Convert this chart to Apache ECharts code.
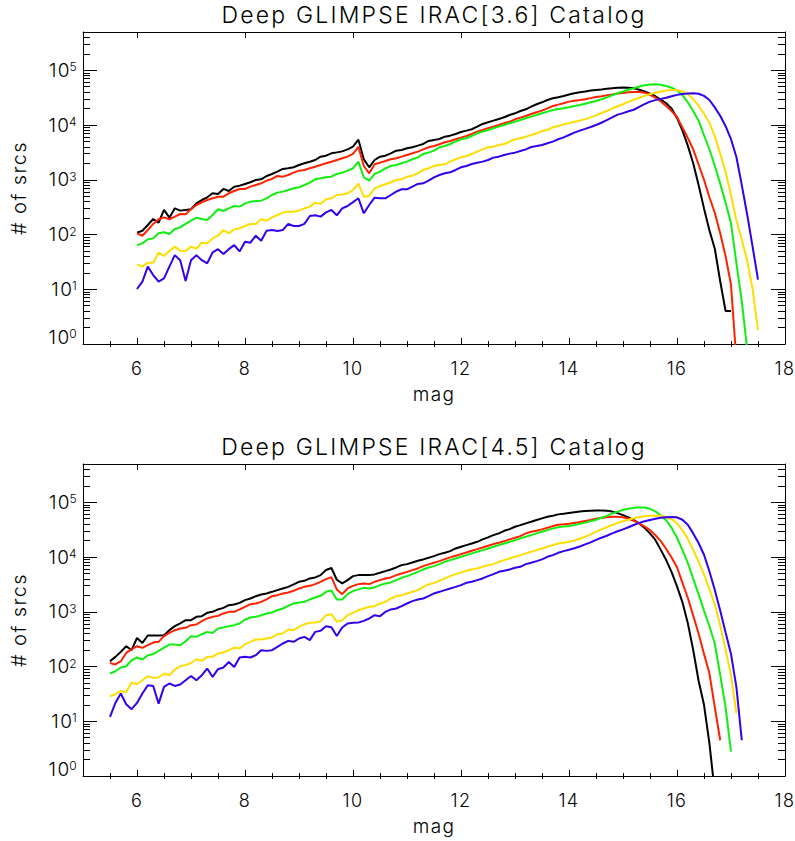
<!DOCTYPE html>
<html><head><meta charset="utf-8">
<script src="https://cdn.jsdelivr.net/npm/echarts@6/dist/echarts.min.js"></script>
<style>html,body{margin:0;padding:0;background:#fff}#c{width:795px;height:841px}#c text{letter-spacing:1.4px}</style>
</head><body><div id="c"></div>
<script>
// ---------- data ----------
const titles = ['Deep GLIMPSE IRAC[3.6] Catalog', 'Deep GLIMPSE IRAC[4.5] Catalog'];
const xName = 'mag';
const yName = '# of srcs';
const seriesColors = ['#000000', '#ff2200', '#11ee11', '#ffdd00', '#3300ee'];

const magTop = [6,6.1,6.2,6.3,6.4,6.5,6.6,6.7,6.8,6.9,7,7.1,7.2,7.3,7.4,7.5,7.6,7.7,7.8,7.9,
 8,8.1,8.2,8.3,8.4,8.5,8.6,8.7,8.8,8.9,9,9.1,9.2,9.3,9.4,9.5,9.6,9.7,9.8,9.9,
 10,10.1,10.2,10.3,10.4,10.5,10.6,10.7,10.8,10.9,11,11.1,11.2,11.3,11.4,11.5,11.6,11.7,11.8,11.9,
 12,12.1,12.2,12.3,12.4,12.5,12.6,12.7,12.8,12.9,13,13.1,13.2,13.3,13.4,13.5,13.6,13.7,13.8,13.9,
 14,14.1,14.2,14.3,14.4,14.5,14.6,14.7,14.8,14.9,15,15.1,15.2,15.3,15.4,15.5,15.6,15.7,15.8,15.9,
 16,16.1,16.2,16.3,16.4,16.5,16.6,16.7,16.8,16.9,17,17.1,17.2,17.3,17.4,17.5];

const top36Black = [108,117,149,192,165,281,203,301,273,281,289,371,427,478,566,550,680,624,748,780,
 838,899,991,1019,1172,1276,1406,1574,1619,1690,1862,1996,2140,2297,2643,2755,3042,3165,3300,3594,
 4024,5400,2366,1690,2297,2643,2755,3042,3404,3500,3757,3918,4198,4508,5108,5330,5559,6125,6395,6860,
 7463,7893,8360,9330,10450,11210,12020,12890,13840,15250,16360,18040,19360,21640,23910,26000,28650,30750,32070,33900,
 36000,37950,39600,41000,42500,43500,44500,46000,47000,48000,48200,48000,46900,44000,41000,37500,33500,29000,25000,20000,
 13500,8000,4200,2000,800,300,120,55,14,4,4];
const top36Red = [105,95,121,156,190,206,190,212,237,234,289,346,387,427,458,491,491,566,624,679,
 679,748,803,861,964,1033,1172,1140,1223,1349,1466,1510,1619,1734,1862,1996,2140,2297,2466,2643,
 2958,4000,1786,1313,1916,2052,2203,2366,2466,2643,2837,3042,3266,3594,3918,4140,4446,4831,5108,5486,
 5875,6310,6860,7560,8110,8710,9330,10000,10740,11510,12700,13620,14620,15920,17070,18320,20200,22280,23550,24950,
 26730,27870,28650,29500,31000,32500,33500,34800,36000,37500,38500,39500,40200,40200,39000,35500,31500,27000,22300,18000,
 14000,9000,5800,3600,1900,1000,480,250,105,40,12,0.5];
const top36Green = [64,69,82,85,105,110,102,126,135,156,179,203,192,184,227,289,269,301,332,323,
 371,398,410,415,458,527,582,607,650,698,728,803,885,1019,1062,1109,1140,1276,1349,1466,
 1620,2140,1109,964,1276,1406,1619,1786,1862,1996,2143,2366,2570,2958,3126,3404,3918,4140,4508,4966,
 5486,5720,6310,7050,7560,8110,8710,9330,10000,10740,11510,12360,13270,14220,15250,16360,17540,18830,19640,20200,
 21080,22280,23230,24500,26000,27500,29500,32000,35000,38000,41000,44000,47000,50500,53500,55000,55500,54500,51700,48000,
 43000,35000,26000,18000,12000,6500,3600,1800,850,380,160,30,6,0.8];
const top36Yellow = [28.5,25.9,30.6,30.6,46.7,40.5,50,60,50.7,50,60,55,71,69,85,95,121,105,124,130,
 143,156,156,190,179,206,227,251,261,261,273,301,323,382,361,440,458,527,540,566,
 650,850,491,506,698,769,826,899,991,1019,1140,1189,1313,1510,1619,1786,1862,1916,2143,2366,
 2570,2718,2958,3266,3594,3918,4024,4318,4508,4966,5486,5720,6125,6577,7050,7780,8110,9080,9600,10300,
 10740,11510,12030,12800,13800,15000,16600,18000,20000,22000,24000,26500,29000,31500,34000,36500,39000,41000,42500,43500,
 43500,41000,36500,29500,22500,16000,11000,6200,3000,1400,520,180,80,33,10,1.8];
const top36Blue = [10.1,13.8,25.9,18.2,13.8,15.8,25.9,42,34,14.2,34,42,34,29.8,47,54,44,54,64,49,
 74,71,95,77,117,121,116,121,156,143,143,156,218,224,212,254,281,224,300,332,
 390,460,244,346,471,458,458,527,607,670,670,748,838,861,964,1109,1223,1313,1368,1510,
 1690,1786,1941,2052,2143,2297,2536,2643,2837,3000,3126,3357,3594,3970,4140,4318,4637,4966,5486,5960,
 6577,7244,7893,8500,9200,10000,11000,12300,13800,15500,16500,17800,19000,21500,24000,26700,28500,30000,31600,33500,
 35500,37000,37800,38000,37200,34000,28600,21000,14800,9500,5500,2600,800,230,60,15];

const magBot = [5.5,5.6,5.7,5.8,5.9,6,6.1,6.2,6.3,6.4,6.5,6.6,6.7,6.8,6.9,7,7.1,7.2,7.3,7.4,7.5,7.6,7.7,7.8,7.9,
 8,8.1,8.2,8.3,8.4,8.5,8.6,8.7,8.8,8.9,9,9.1,9.2,9.3,9.4,9.5,9.6,9.7,9.8,9.9,
 10,10.1,10.2,10.3,10.4,10.5,10.6,10.7,10.8,10.9,11,11.1,11.2,11.3,11.4,11.5,11.6,11.7,11.8,11.9,
 12,12.1,12.2,12.3,12.4,12.5,12.6,12.7,12.8,12.9,13,13.1,13.2,13.3,13.4,13.5,13.6,13.7,13.8,13.9,
 14,14.1,14.2,14.3,14.4,14.5,14.6,14.7,14.8,14.9,15,15.1,15.2,15.3,15.4,15.5,15.6,15.7,15.8,15.9,
 16,16.1,16.2,16.3,16.4,16.5,16.6,16.7,16.8,16.9,17,17.1,17.2];

const bot45Black = [125,150,185,235,199,
 333,270,369,369,369,373,461,546,611,702,702,807,831,955,996,1102,1178,1320,1359,1455,
 1629,1749,1926,2070,2161,2312,2483,2666,2853,3155,3522,3675,4062,4236,4670,5800,6300,3850,3290,3785,
 4475,4670,4670,4670,4810,5145,5520,5930,6450,7110,7420,7960,8530,9040,9670,10380,11300,11940,12820,14350,
 15360,16500,17700,18970,20980,22820,25140,26980,30130,32360,35650,38280,41100,44040,47300,50750,54370,56650,60100,61500,
 63500,65500,67500,69000,70000,70500,70500,70000,67500,63500,58300,53000,47000,41000,34000,27000,20500,13500,8800,5300,
 2900,1500,620,200,55,20,4,0.5];
const bot45Red = [116,109,125,177,205,
 235,219,245,274,282,358,411,461,495,508,569,585,673,754,807,841,931,996,996,1102,
 1231,1377,1416,1518,1679,1926,2010,2161,2255,2412,2666,2853,2974,3197,3522,3945,4300,2560,2099,2666,
 2974,3197,3290,3197,3522,3785,4062,4236,4670,5012,5360,5764,6186,6820,7330,7840,8410,9160,9840,10520,
 11300,12130,12980,13930,14960,16020,17220,18200,19540,20980,22440,24100,26980,28900,30130,31980,34200,36730,38790,39500,
 40500,42000,43500,45500,47500,50000,52000,53500,54400,54500,53200,50000,46000,41000,36000,31000,25000,19500,14000,9800,
 6500,3400,1800,850,400,170,75,18,4.5];
const bot45Green = [74.5,82,95.8,101,130,
 146,134,161,168,193,222,252,252,245,290,358,348,389,429,411,495,516,546,569,611,
 723,787,807,866,931,971,1069,1148,1282,1416,1479,1518,1679,1825,1954,2312,2450,1679,1679,2099,
 2382,2560,2735,2666,2780,3064,3290,3435,3785,4170,4475,4865,5360,5930,6450,6820,7420,8170,8770,9420,
 10090,10840,11640,12450,13370,14350,15360,16500,17700,18970,20370,21870,23400,25140,26980,28900,31030,33340,35000,36000,
 37000,38500,40500,42500,45000,48000,52000,56500,62000,67500,72000,76000,79000,80500,80000,76000,68000,58000,47000,34000,
 22500,13500,7800,4000,2100,1050,550,260,70,18,2.8];
const bot45Yellow = [28.6,31.2,35.8,34.3,51,
 47.5,56.2,66.5,62,62.9,74.5,69.3,88.1,101,106,116,136,127,150,150,173,180,199,222,213,
 256,282,311,311,325,339,389,401,474,461,530,593,627,637,673,866,903,660,702,866,
 955,1069,1148,1231,1265,1416,1518,1749,1926,2010,2161,2312,2483,2853,3155,3375,3675,4062,4475,4865,
 5230,5600,5930,6186,6620,7110,7420,8170,8770,9420,10090,10840,11640,12450,13370,14350,15360,16500,17700,18300,
 19000,20000,21500,23500,26000,29000,32000,35000,38500,42000,45000,48000,51000,53500,55500,56700,57000,56500,54000,49000,
 41000,31000,21500,13500,8200,4800,2600,1350,560,200,70,14];
const bot45Blue = [12,21.6,32.1,20.5,16.6,
 21.6,32.1,45.5,44.2,21,42.4,48.9,44.2,46.9,56.2,67.3,56.2,69.3,91.9,64.5,89.3,95.8,121,98.4,146,
 150,146,161,199,193,199,228,263,294,282,325,348,303,429,448,546,520,360,516,611,
 627,637,682,754,866,831,996,1102,1148,1265,1416,1563,1679,1749,1926,2161,2312,2483,2666,2853,
 3064,3375,3522,3785,4062,4475,4865,5360,5600,5930,6350,6620,7420,7840,8410,9040,10090,10840,11940,12800,
 13600,14500,15600,17000,18500,20500,22500,24500,27000,29500,32000,35000,38500,42000,45000,47500,50000,52000,53000,54000,
 53000,48000,39000,27000,18000,11000,5500,2500,1050,420,170,42,4.5];

// axis ranges, ticks and labels
const xRange = [5, 18];
const xMajorTicks = [6, 8, 10, 12, 14, 16];
const xLabelVals = [6, 8, 10, 12, 14, 16, 18];
const xMinorTicks = [5.5, 6.5, 7, 7.5, 8.5, 9, 9.5, 10.5, 11, 11.5, 12.5, 13, 13.5, 14.5, 15, 15.5, 16.5, 17, 17.5];
const yRange = [1, 5e5];
const yMinorTicks = [2,3,4,5,6,7,8,9, 20,30,40,50,60,70,80,90, 200,300,400,500,600,700,800,900,
 2000,3000,4000,5000,6000,7000,8000,9000, 20000,30000,40000,50000,60000,70000,80000,90000,
 200000,300000,400000];

const panels = [
  { mags: magTop, series: [top36Black, top36Red, top36Green, top36Yellow, top36Blue] },
  { mags: magBot, series: [bot45Black, bot45Red, bot45Green, bot45Yellow, bot45Blue] }
];

// ---------- chart ----------
const FONT = "Inter, 'DejaVu Sans', sans-serif";
const FW = 300;
const gridTops = [32, 464];
const gridH = 312;
const black = '#000';

function yLabelFmt(v) {
  const l = Math.log10(v);
  const n = Math.round(l);
  if (Math.abs(l - n) > 1e-6) return '';
  if (n === 0) return '{b|10}{s|0}\n{g| }';
  return '{b|10}{s|' + n + '}';
}
const yRich = {
  b: { fontSize: 19, lineHeight: 19, fontFamily: FONT, fontWeight: FW, color: black },
  s: { fontSize: 12, lineHeight: 12, fontFamily: FONT, fontWeight: FW, color: black, verticalAlign: 'top' },
  g: { fontSize: 2, lineHeight: 14 }
};
const logMinorMax = Math.log10(yRange[1]);

const grids = [], xAxes = [], yAxes = [], series = [], graphics = [];
panels.forEach((p, gi) => {
  grids.push({ left: 83, top: gridTops[gi], width: 702, height: gridH, outerBoundsMode: 'none', containLabel: false });
  const axLine = { show: true, onZero: false, lineStyle: { color: black, width: 1 } };
  const noLine = { show: false };
  const tickStyle = { color: black, width: 1 };
  const xBase = { type: 'value', gridIndex: gi, min: xRange[0], max: xRange[1], splitLine: { show: false } };
  xAxes.push(Object.assign({}, xBase, {
    position: 'bottom', axisLine: axLine,
    axisTick: { show: true, inside: true, length: 6, customValues: xMajorTicks, lineStyle: tickStyle },
    axisLabel: { show: true, customValues: xLabelVals, fontSize: 18, fontFamily: FONT, fontWeight: FW, color: black, margin: 15 },
    name: xName, nameLocation: 'middle', nameGap: 41,
    nameTextStyle: { fontSize: 19, fontFamily: FONT, fontWeight: FW, color: black }
  }));
  xAxes.push(Object.assign({}, xBase, {
    position: 'bottom', axisLine: noLine,
    axisTick: { show: true, inside: true, length: 3, customValues: xMinorTicks, lineStyle: tickStyle },
    axisLabel: { show: false }
  }));
  xAxes.push(Object.assign({}, xBase, {
    position: 'top', axisLine: axLine,
    axisTick: { show: true, inside: true, length: 6, customValues: xMajorTicks, lineStyle: tickStyle },
    axisLabel: { show: false }
  }));
  xAxes.push(Object.assign({}, xBase, {
    position: 'top', axisLine: noLine,
    axisTick: { show: true, inside: true, length: 3, customValues: xMinorTicks, lineStyle: tickStyle },
    axisLabel: { show: false }
  }));

  const yBase = { type: 'log', logBase: 10, gridIndex: gi, min: yRange[0], max: yRange[1], splitLine: { show: false } };
  const yMinorBase = { type: 'value', gridIndex: gi, min: 0, max: logMinorMax, splitLine: { show: false } };
  const minorLogVals = yMinorTicks.map(v => Math.log10(v));
  yAxes.push(Object.assign({}, yBase, {
    position: 'left', axisLine: axLine,
    axisTick: { show: true, inside: true, length: 14, lineStyle: tickStyle },
    axisLabel: { show: true, formatter: yLabelFmt, rich: yRich, margin: 5, showMaxLabel: false },
    name: yName, nameLocation: 'middle', nameGap: 54,
    nameTextStyle: { fontSize: 20, fontFamily: FONT, fontWeight: FW, color: black }
  }));
  yAxes.push(Object.assign({}, yMinorBase, {
    position: 'left', axisLine: noLine,
    axisTick: { show: true, inside: true, length: 7, customValues: minorLogVals, lineStyle: tickStyle },
    axisLabel: { show: false }
  }));
  yAxes.push(Object.assign({}, yBase, {
    position: 'right', axisLine: axLine,
    axisTick: { show: true, inside: true, length: 14, lineStyle: tickStyle },
    axisLabel: { show: false }
  }));
  yAxes.push(Object.assign({}, yMinorBase, {
    position: 'right', axisLine: noLine,
    axisTick: { show: true, inside: true, length: 7, customValues: minorLogVals, lineStyle: tickStyle },
    axisLabel: { show: false }
  }));

  p.series.forEach((vals, si) => {
    series.push({
      type: 'line', xAxisIndex: gi * 4, yAxisIndex: gi * 4,
      data: vals.map((v, i) => [p.mags[i], v]),
      showSymbol: false, symbol: 'none', clip: true, silent: true,
      lineStyle: { color: seriesColors[si], width: 2 },
      z: 2 + si
    });
  });

  graphics.push({
    type: 'text', x: 434, y: gridTops[gi] - 29,
    style: { text: titles[gi], font: FW + ' 23px ' + FONT, fill: black, textAlign: 'center', textVerticalAlign: 'top' }
  });
});

const chart = echarts.init(document.getElementById('c'), null, { renderer: 'svg', width: 795, height: 841 });
chart.setOption({
  animation: false,
  backgroundColor: '#fff',
  grid: grids, xAxis: xAxes, yAxis: yAxes, series: series,
  graphic: graphics
});
// widen the stroke-font look of the titles
document.querySelectorAll('#c text').forEach(t => {
  if (t.textContent.indexOf('Deep GLIMPSE') === 0) t.style.letterSpacing = '2.2px';
});
</script></body></html>
